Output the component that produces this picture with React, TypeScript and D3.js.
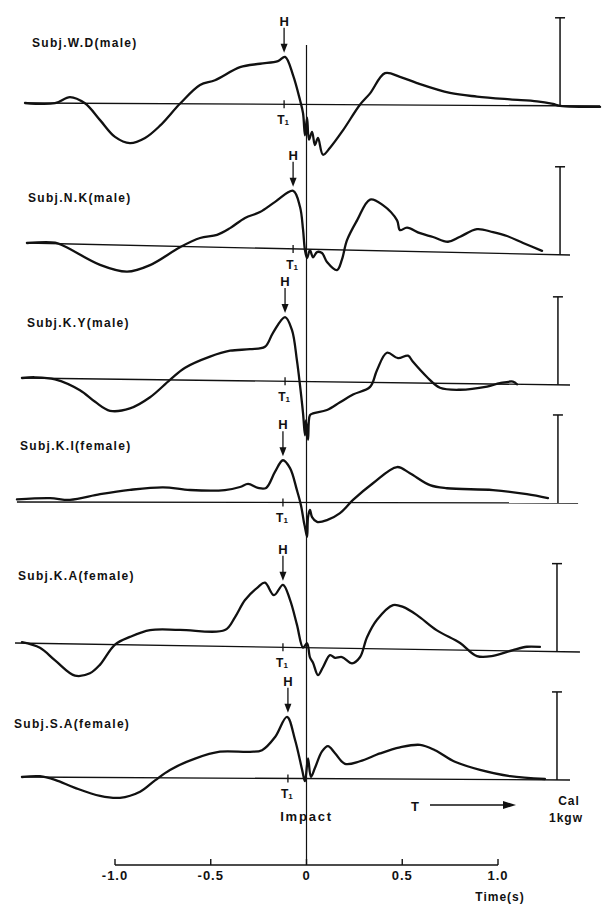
import React from 'react';
import * as d3 from 'd3';

type Pt = [number, number]; // [time (s), force (kgw)]

const subjects = [
  'Subj.W.D(male)',
  'Subj.N.K(male)',
  'Subj.K.Y(male)',
  'Subj.K.I(female)',
  'Subj.K.A(female)',
  'Subj.S.A(female)',
];

const tickValues = [-1.0, -0.5, 0, 0.5, 1.0];
const tickLabels = ['-1.0', '-0.5', '0', '0.5', '1.0'];
const t1Times = [-0.117, -0.07, -0.112, -0.123, -0.123, -0.097];
const calValue = 1; // 1 kgw

const wd: Pt[] = [
  [-1.47, 0], [-1.313, 0], [-1.235, 0.07], [-1.157, 0], [-1.078, -0.19], [-1.0, -0.38],
  [-0.922, -0.45], [-0.843, -0.39], [-0.765, -0.25], [-0.661, 0], [-0.556, 0.215],
  [-0.478, 0.27], [-0.347, 0.42], [-0.243, 0.46], [-0.149, 0.49], [-0.112, 0.54],
  [-0.07, 0.33], [-0.034, 0.05], [-0.018, -0.1], [-0.008, -0.35], [0.003, -0.15],
  [0.013, -0.4], [0.029, -0.31], [0.044, -0.46], [0.06, -0.38], [0.086, -0.57],
  [0.123, -0.49], [0.191, -0.29], [0.279, 0], [0.332, 0.13], [0.41, 0.36], [0.488, 0.32],
  [0.577, 0.25], [0.749, 0.14], [0.89, 0.1], [1.063, 0.07], [1.204, 0.05], [1.287, 0.02],
  [1.324, 0], [1.533, -0.01],
];

const nk: Pt[] = [
  [-1.46, 0], [-1.313, 0.01], [-1.261, -0.03], [-1.078, -0.23], [-0.937, -0.3],
  [-0.817, -0.22], [-0.661, -0.01], [-0.556, 0.1], [-0.467, 0.14], [-0.399, 0.22],
  [-0.321, 0.34], [-0.243, 0.41], [-0.164, 0.53], [-0.07, 0.66], [-0.034, 0.48],
  [-0.018, 0.22], [-0.008, -0.01], [0.003, -0.1], [0.018, -0.01], [0.034, -0.09],
  [0.055, -0.03], [0.081, -0.04], [0.107, -0.14], [0.159, -0.23], [0.185, -0.11],
  [0.211, 0.11], [0.264, 0.34], [0.332, 0.58], [0.399, 0.52], [0.473, 0.35], [0.488, 0.24],
  [0.525, 0.27], [0.593, 0.21], [0.661, 0.17], [0.739, 0.12], [0.802, 0.18], [0.89, 0.27],
  [0.974, 0.24], [1.047, 0.2], [1.131, 0.125], [1.23, 0.04],
];

const ky: Pt[] = [
  [-1.486, 0], [-1.418, 0.01], [-1.313, -0.01], [-1.183, -0.13], [-1.104, -0.26],
  [-1.026, -0.36], [-0.922, -0.33], [-0.817, -0.2], [-0.713, 0], [-0.634, 0.14],
  [-0.504, 0.27], [-0.399, 0.34], [-0.295, 0.36], [-0.217, 0.39], [-0.175, 0.55],
  [-0.112, 0.73], [-0.076, 0.585], [-0.05, 0.24], [-0.034, -0.04], [-0.018, -0.36],
  [-0.008, -0.61], [-0.003, -0.44], [0.008, -0.66], [0.018, -0.38], [0.034, -0.36],
  [0.107, -0.32], [0.175, -0.23], [0.243, -0.14], [0.332, -0.05], [0.368, 0.14],
  [0.42, 0.34], [0.478, 0.28], [0.53, 0.31], [0.556, 0.24], [0.629, 0.07], [0.697, -0.05],
  [0.802, -0.07], [0.943, -0.03], [1.01, 0.01], [1.078, 0.03], [1.099, 0],
];

const ki: Pt[] = [
  [-1.512, 0.03], [-1.339, 0.045], [-1.235, 0.025], [-1.078, 0.09], [-0.922, 0.14],
  [-0.749, 0.17], [-0.608, 0.14], [-0.426, 0.14], [-0.347, 0.175], [-0.305, 0.21],
  [-0.253, 0.165], [-0.211, 0.165], [-0.164, 0.35], [-0.123, 0.48], [-0.086, 0.39],
  [-0.05, 0.14], [-0.029, -0.03], [-0.013, -0.23], [-0.008, -0.28], [0.003, -0.39],
  [0.008, -0.165], [0.018, -0.085], [0.029, -0.165], [0.055, -0.22], [0.107, -0.2],
  [0.175, -0.12], [0.243, 0.03], [0.347, 0.22], [0.473, 0.405], [0.54, 0.335],
  [0.645, 0.2], [0.734, 0.165], [0.974, 0.145], [1.151, 0.1], [1.261, 0.055],
];

const ka: Pt[] = [
  [-1.486, 0.01], [-1.392, -0.05], [-1.313, -0.19], [-1.209, -0.36], [-1.131, -0.33],
  [-1.078, -0.23], [-1.0, 0], [-0.922, 0.09], [-0.817, 0.17], [-0.661, 0.18],
  [-0.426, 0.185], [-0.373, 0.335], [-0.321, 0.53], [-0.253, 0.68], [-0.217, 0.73],
  [-0.17, 0.59], [-0.123, 0.71], [-0.086, 0.54], [-0.05, 0.26], [-0.018, 0],
  [0.003, 0.05], [0.018, -0.11], [0.034, -0.17], [0.06, -0.31], [0.086, -0.22],
  [0.123, -0.08], [0.149, -0.11], [0.185, -0.1], [0.238, -0.17], [0.279, -0.1],
  [0.316, 0.13], [0.368, 0.33], [0.452, 0.5], [0.504, 0.48], [0.577, 0.39], [0.681, 0.22],
  [0.802, 0.08], [0.89, -0.065], [0.974, -0.06], [1.078, 0.01], [1.151, 0.05], [1.219, 0.05],
];

const sa: Pt[] = [
  [-1.486, 0], [-1.392, 0.01], [-1.313, -0.03], [-1.209, -0.12], [-1.078, -0.21],
  [-0.974, -0.23], [-0.869, -0.16], [-0.791, -0.03], [-0.713, 0.09], [-0.582, 0.22],
  [-0.452, 0.3], [-0.295, 0.3], [-0.232, 0.32], [-0.164, 0.47], [-0.102, 0.7],
  [-0.06, 0.44], [-0.023, 0.1], [-0.008, -0.03], [0.008, 0.23], [0.023, 0.02],
  [0.044, 0.12], [0.081, 0.31], [0.112, 0.37], [0.149, 0.29], [0.201, 0.17], [0.279, 0.2],
  [0.384, 0.29], [0.488, 0.36], [0.593, 0.39], [0.671, 0.33], [0.775, 0.2], [0.906, 0.11],
  [1.063, 0.04], [1.245, 0.01],
];

const traces = [wd, nk, ky, ki, ka, sa];

// layout of each strip: baseline y at left/right ends (scan is slightly tilted)
const layout = [
  { yL: 103, yR: 106, tL: -1.47, tR: 1.533, calT: 1.324, lx: 32, ly: 47 },
  { yL: 243, yR: 255, tL: -1.46, tR: 1.376, calT: 1.324, lx: 28, ly: 202 },
  { yL: 378, yR: 385, tL: -1.486, tR: 1.376, calT: 1.313, lx: 27, ly: 327 },
  { yL: 502, yR: 503, tL: -1.512, tR: 1.418, calT: 1.313, lx: 20, ly: 450 },
  { yL: 643, yR: 652, tL: -1.522, tR: 1.428, calT: 1.308, lx: 18, ly: 580 },
  { yL: 777, yR: 780, tL: -1.486, tR: 1.376, calT: 1.308, lx: 14, ly: 728 },
];

const FONT = '"Liberation Sans", Arial, Helvetica, sans-serif';
const INK = '#111';

export default function App() {
  const W = 605;
  const Hh = 905;
  const x = d3.scaleLinear().domain([-1, 1]).range([115, 498]);
  const kpx = 88; // px per kgw
  const axisY = 865;

  return (
    <svg
      width={W}
      height={Hh}
      viewBox={`0 0 ${W} ${Hh}`}
      style={{ position: 'absolute', left: 0, top: 0, display: 'block', background: '#fff' }}
      fontFamily={FONT}
    >
      <rect x={0} y={0} width={W} height={Hh} fill="#fff" />
      {/* impact line */}
      <line x1={x(0)} x2={x(0)} y1={45} y2={axisY} stroke={INK} strokeWidth={1.2} />
      {traces.map((data, i) => {
        const L = layout[i];
        const base = d3.scaleLinear().domain([L.tL, L.tR]).range([L.yL, L.yR]);
        const yOf = (t: number, v: number) => base(t) - v * kpx;
        const line = d3
          .line<Pt>()
          .x((d) => x(d[0]))
          .y((d) => yOf(d[0], d[1]))
          .curve(d3.curveCatmullRom.alpha(0.5));
        const t1 = t1Times[i];
        const near = data.filter((d) => Math.abs(d[0] - t1) < 0.05);
        const peak = near.reduce((a, b) => (b[1] > a[1] ? b : a), near[0]);
        const tip = yOf(peak[0], peak[1]) - 4;
        const hx = x(t1);
        const hBase = tip - 27;
        const by = base(t1);
        const calX = x(L.calT);
        const calB = base(L.calT);
        const calTop = calB - calValue * kpx;
        return (
          <g key={i}>
            <line x1={x(L.tL)} x2={x(L.tR)} y1={L.yL} y2={L.yR} stroke={INK} strokeWidth={1.3} />
            <path d={line(data) || ''} fill="none" stroke={INK} strokeWidth={2.3} strokeLinejoin="round" strokeLinecap="round" />
            <text x={L.lx} y={L.ly} fontSize={12} fontWeight="bold" letterSpacing={1.3} fill={INK}>
              {subjects[i]}
            </text>
            {/* H marker */}
            <text x={hx} y={hBase} fontSize={13} fontWeight="bold" textAnchor="middle" fill={INK}>H</text>
            <line x1={hx} x2={hx} y1={hBase + 2} y2={tip - 7} stroke={INK} strokeWidth={1.3} />
            <path d={`M${hx - 3.5},${tip - 9} L${hx + 3.5},${tip - 9} L${hx},${tip} Z`} fill={INK} />
            {/* T1 marker */}
            <line x1={hx} x2={hx} y1={by - 4} y2={by + 4} stroke={INK} strokeWidth={1.3} />
            <text x={hx - 1} y={by + 20} fontSize={12} fontWeight="bold" textAnchor="middle" fill={INK}>
              T<tspan fontSize={8} dy={1}>1</tspan>
            </text>
            {/* calibration bar */}
            <line x1={calX} x2={calX} y1={calTop} y2={calB} stroke={INK} strokeWidth={1.5} />
            <line x1={calX - 5} x2={calX + 5} y1={calTop} y2={calTop} stroke={INK} strokeWidth={1.5} />
          </g>
        );
      })}
      {/* bottom annotations */}
      <text x={x(0)} y={821} fontSize={13} fontWeight="bold" textAnchor="middle" letterSpacing={1.8} fill={INK}>Impact</text>
      <text x={415} y={811} fontSize={13} fontWeight="bold" textAnchor="middle" fill={INK}>T</text>
      <line x1={430} x2={505} y1={805} y2={805} stroke={INK} strokeWidth={1.3} />
      <path d="M503,801 L516,805 L503,809 Z" fill={INK} />
      <text x={569} y={805} fontSize={12} fontWeight="bold" textAnchor="middle" letterSpacing={1} fill={INK}>Cal</text>
      <text x={566} y={822} fontSize={12} fontWeight="bold" textAnchor="middle" letterSpacing={1} fill={INK}>1kgw</text>
      {/* time axis */}
      <line x1={x(-1)} x2={x(1)} y1={axisY} y2={axisY} stroke={INK} strokeWidth={1.4} />
      {tickValues.map((t, i) => (
        <g key={t}>
          <line x1={x(t)} x2={x(t)} y1={axisY} y2={axisY - 6} stroke={INK} strokeWidth={1.4} />
          <text x={x(t)} y={880} fontSize={13} fontWeight="bold" textAnchor="middle" letterSpacing={1} fill={INK}>
            {tickLabels[i]}
          </text>
        </g>
      ))}
      <text x={500} y={901} fontSize={12} fontWeight="bold" textAnchor="middle" letterSpacing={1} fill={INK}>Time(s)</text>
    </svg>
  );
}
